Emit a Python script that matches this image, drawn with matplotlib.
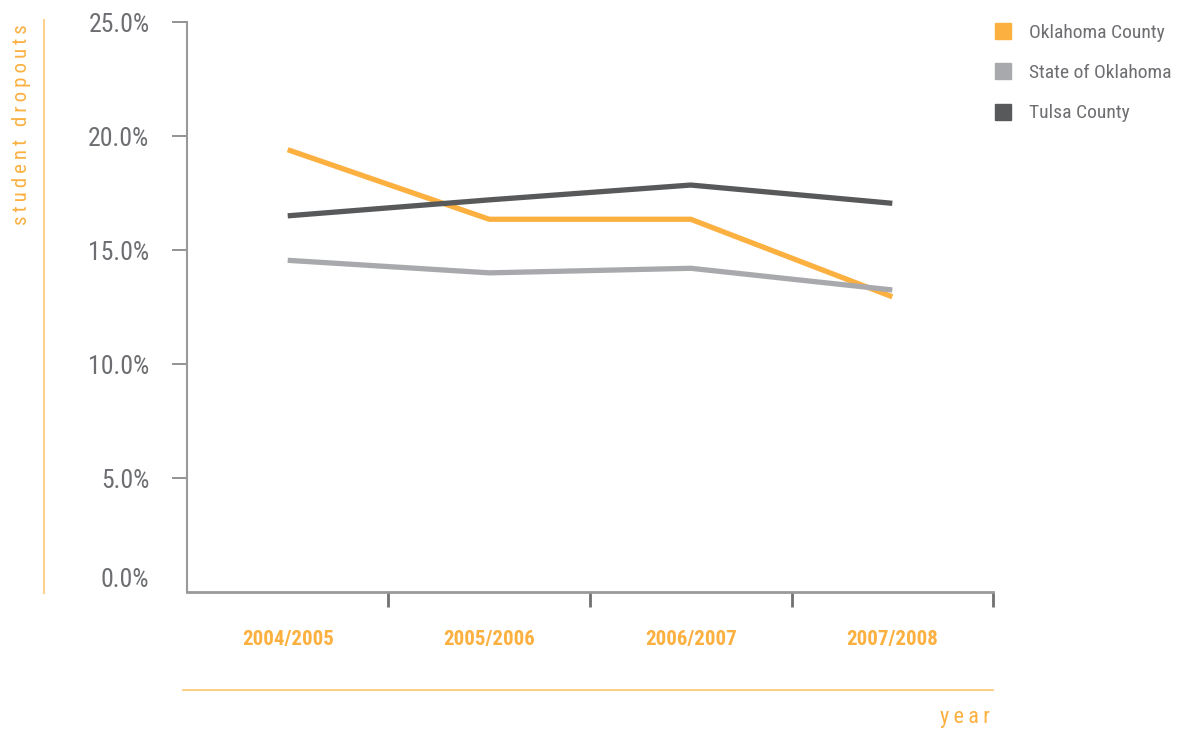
import matplotlib
matplotlib.use("Agg")
import matplotlib.pyplot as plt
from matplotlib import font_manager
from matplotlib.lines import Line2D

# data (percent of students)
years = ["2004/2005", "2005/2006", "2006/2007", "2007/2008"]
oklahoma_county = [19.4, 16.35, 16.35, 12.95]
state_of_oklahoma = [14.55, 14.0, 14.2, 13.25]
tulsa_county = [16.5, 17.2, 17.85, 17.05]

series_names = ["Oklahoma County", "State of Oklahoma", "Tulsa County"]
series_colors = ["#FBB040", "#A7A9AC", "#58595B"]

ORANGE = "#FBB040"
TEXT_GREY = "#6D6E71"

# the original uses a condensed face; pick a narrow one if there is one
installed = sorted({f.name for f in font_manager.fontManager.ttflist})
condensed = [f.name for f in font_manager.fontManager.ttflist
             if f.stretch in ("condensed", "semi-condensed", "extra-condensed")]
pick = None
for cand in ["Roboto Condensed", "Liberation Sans Narrow", "Open Sans Condensed",
             "Noto Sans Condensed", "DejaVu Sans Condensed"]:
    if cand in installed:
        pick = cand
        break
if pick is None and condensed:
    pick = condensed[0]
if pick is None:
    pick = "Roboto" if "Roboto" in installed else "DejaVu Sans"
stretch = "condensed" if pick in condensed else "normal"

plt.rcParams["font.family"] = [pick, "DejaVu Sans"]
plt.rcParams["font.stretch"] = stretch


def spaced(word):
    # letter-spaced text like the original's axis titles
    return "\u2009".join(word).replace("\u2009 \u2009", "\u2009\u2009 ")


fig = plt.figure(figsize=(11.78, 7.31), dpi=100)
ax = fig.add_axes([0.1587, 0.19, 0.8430 - 0.1587, 0.9699 - 0.19])

x = list(range(len(years)))
for vals, col in zip([oklahoma_county, state_of_oklahoma, tulsa_county], series_colors):
    ax.plot(x, vals, color=col, lw=3.8, solid_capstyle="butt", solid_joinstyle="miter")

ax.set_xlim(-0.5, len(years) - 0.5)
ax.set_ylim(0, 25)

# y axis
ax.set_yticks([0, 5, 10, 15, 20, 25])
ax.set_yticklabels([f"{v:.1f}%" for v in [0, 5, 10, 15, 20, 25]])
ax.tick_params(axis="y", direction="out", length=11, width=1.2, color="#808080",
               labelsize=18.5, labelcolor=TEXT_GREY, pad=16)
ax.yaxis.get_major_ticks()[0].tick1line.set_visible(False)
ax.get_yticklabels()[0].set_verticalalignment("bottom")

# x axis: category labels centred, tick marks on category boundaries
ax.set_xticks(x)
ax.set_xticklabels(years, fontweight="bold", color=ORANGE, fontsize=15)
ax.tick_params(axis="x", which="major", length=0, pad=27)
ax.set_xticks([i + 0.5 for i in x], minor=True)
ax.tick_params(axis="x", which="minor", direction="out", length=11, width=2, color="#707070")
ax.xaxis.get_minor_ticks()[-1].tick1line.set_color("#222222")

for side in ["top", "right"]:
    ax.spines[side].set_visible(False)
ax.spines["left"].set_color("#999999")
ax.spines["left"].set_linewidth(1.5)
ax.spines["bottom"].set_color("#999999")
ax.spines["bottom"].set_linewidth(2)

# decorative axis titles with guide lines
fig.add_artist(Line2D([44 / 1178, 44 / 1178], [1 - 20 / 731, 1 - 593 / 731],
                      color="#FDD28E", lw=1.5))
fig.text(22 / 1178, 1 - 24 / 731, spaced("student dropouts"), rotation=90,
         ha="center", va="top", color=ORANGE, fontsize=15)
fig.add_artist(Line2D([183 / 1178, 993 / 1178], [1 - 690 / 731, 1 - 690 / 731],
                      color="#FDC56E", lw=1.2))
fig.text(990 / 1178, 1 - 718 / 731, spaced("year"), ha="right", va="center",
         color=ORANGE, fontsize=16)

# legend
handles = [Line2D([], [], marker="s", ls="", markersize=11, color=c) for c in series_colors]
fig.legend(handles, series_names, loc="upper left", bbox_to_anchor=(985 / 1178, 1 - 16 / 731),
           frameon=False, fontsize=14, labelcolor=TEXT_GREY, handletextpad=0.85,
           labelspacing=1.15, handlelength=1.0, borderaxespad=0)

fig.savefig("out.png", dpi=100)
